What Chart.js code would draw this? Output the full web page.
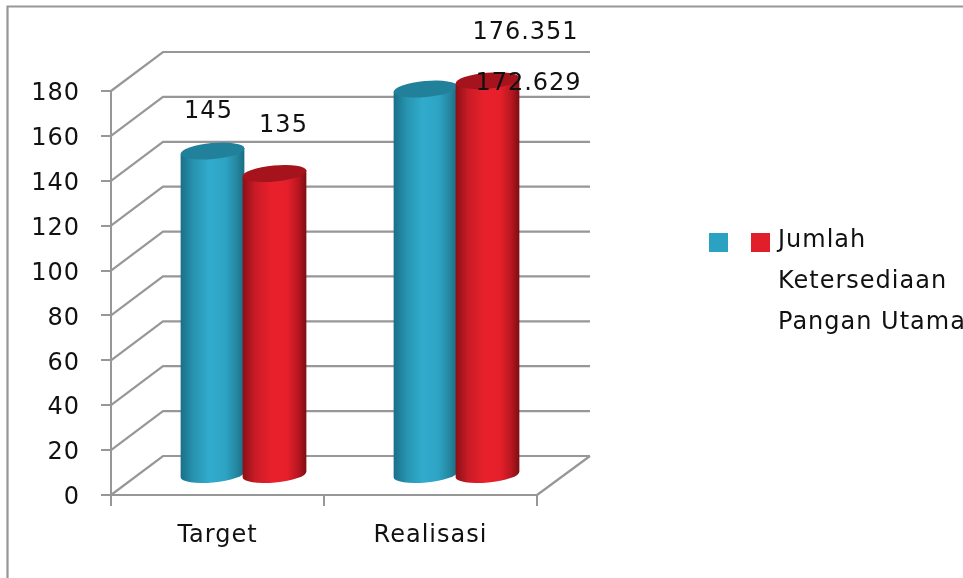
<!DOCTYPE html>
<html>
<head>
<meta charset="utf-8">
<title>Jumlah Ketersediaan Pangan Utama</title>
<script src="https://cdn.jsdelivr.net/npm/chart.js@4/dist/chart.umd.min.js"></script>
<style>
    html, body { margin: 0; padding: 0; background: #fff; overflow: hidden; }
    canvas { display: block; }
</style>
</head>
<body>
<canvas id="myChart" width="963" height="578"></canvas>
<script>
const categories = ['Target', 'Realisasi']
const seriesBlue = [145, 172.629]
const seriesRed = [135, 176.351]
const blueLabels = ['145', '172.629']
const redLabels = ['135', '176.351']
const legendLines = ['Jumlah', 'Ketersediaan', 'Pangan Utama']

const FONT = '"DejaVu Sans", sans-serif'
const GREY = '#979797'
const DEPTH_X = 52
const DEPTH_Y = 39

// tong mau: trai -> phai
const blueStops = [[0, '#1a6f88'], [0.2, '#2793b0'], [0.45, '#31abcc'], [0.7, '#2ea4c4'], [0.88, '#25869f'], [1, '#1b6a82']]
const redStops = [[0, '#8c0f17'], [0.2, '#c81c26'], [0.45, '#e8202c'], [0.7, '#e6202b'], [0.88, '#b5161f'], [1, '#7c0d13']]

function drawCylinder(ctx, bar, stops, topColor) {
    const a = 32, b = 8, rot = -0.09
    const cx = bar.x + DEPTH_X / 2
    const top = bar.y - DEPTH_Y / 2 + 1
    const base = bar.base - DEPTH_Y / 2
    const grad = ctx.createLinearGradient(cx - a, 0, cx + a, 0)
    stops.forEach((s) => grad.addColorStop(s[0], s[1]))
    const ex = a * Math.cos(rot), ey = a * Math.sin(rot)
    ctx.beginPath()
    ctx.moveTo(cx + ex, top + ey)
    ctx.lineTo(cx + ex, base + ey)
    ctx.ellipse(cx, base, a, b, rot, 0, Math.PI)
    ctx.lineTo(cx - ex, top - ey)
    ctx.closePath()
    ctx.fillStyle = grad
    ctx.fill()
    ctx.beginPath()
    ctx.ellipse(cx, top, a, b, rot, 0, Math.PI * 2)
    ctx.fillStyle = topColor
    ctx.fill()
}

const walls3d = {
    id: 'walls3d',
    beforeDraw(chart) {
        const ctx = chart.ctx
        const y = chart.scales.y, x = chart.scales.x
        ctx.letterSpacing = '1px'
        ctx.save()
        ctx.strokeStyle = GREY
        ctx.lineWidth = 2.2
        // khung ngoai
        ctx.beginPath()
        ctx.moveTo(7.5, 578)
        ctx.lineTo(7.5, 6.5)
        ctx.lineTo(963, 6.5)
        ctx.stroke()
        y.ticks.forEach((t) => {
            const py = y.getPixelForValue(t.value)
            ctx.beginPath()
            ctx.moveTo(x.left, py)
            ctx.lineTo(x.left + DEPTH_X, py - DEPTH_Y)
            ctx.lineTo(x.right + DEPTH_X + 1, py - DEPTH_Y)
            ctx.stroke()
        })
        ctx.beginPath()
        ctx.moveTo(x.right, y.bottom)
        ctx.lineTo(x.right + DEPTH_X + 1, y.bottom - DEPTH_Y)
        ctx.stroke()
        ctx.restore()
    }
}

const cylinders = {
    id: 'cylinders',
    beforeDatasetsDraw(chart) {
        const ctx = chart.ctx
        ctx.save()
        chart.getDatasetMeta(0).data.forEach((bar) => drawCylinder(ctx, bar, blueStops, '#21809a'))
        chart.getDatasetMeta(1).data.forEach((bar) => drawCylinder(ctx, bar, redStops, '#a5141d'))
        ctx.restore()
        return false
    }
}

const textLayer = {
    id: 'textLayer',
    afterDraw(chart) {
        const ctx = chart.ctx
        const blue = chart.getDatasetMeta(0).data
        const red = chart.getDatasetMeta(1).data
        ctx.save()
        ctx.fillStyle = '#111'
        ctx.font = '24px ' + FONT
        ctx.textAlign = 'center'
        ctx.textBaseline = 'middle'
        // nhan duoc keo tay nhu ban goc
        ctx.fillText(blueLabels[0], blue[0].x + 22, blue[0].y - 58)
        ctx.fillText(redLabels[0], red[0].x + 35, red[0].y - 66)
        ctx.fillText(blueLabels[1], blue[1].x + 129, blue[1].y - 24)
        ctx.fillText(redLabels[1], red[1].x + 64, red[1].y - 66)

        ctx.fillStyle = chart.data.datasets[0].backgroundColor
        ctx.fillRect(709, 233, 19, 19)
        ctx.fillStyle = chart.data.datasets[1].backgroundColor
        ctx.fillRect(751, 233, 19, 19)
        ctx.fillStyle = '#111'
        ctx.textAlign = 'left'
        legendLines.forEach((line, i) => ctx.fillText(line, 778, 241 + i * 41))
        ctx.restore()
    }
}

const ctx = document.getElementById('myChart').getContext('2d')
const myChart = new Chart(ctx, {
    type: 'bar',
    data: {
        labels: categories,
        datasets: [
            { label: '', data: seriesBlue, backgroundColor: '#2ca2c2', barThickness: 62 },
            { label: legendLines.join(' '), data: seriesRed, backgroundColor: '#e01f2b', barThickness: 62 }
        ]
    },
    options: {
        responsive: false,
        animation: false,
        layout: { padding: { top: 91, right: 426, left: 0, bottom: 0 } },
        plugins: {
            legend: { display: false },
            title: { display: false },
            tooltip: { enabled: false }
        },
        scales: {
            x: {
                afterFit(scale) { scale.height = 83 },
                grid: { drawOnChartArea: false, color: GREY, lineWidth: 2, tickLength: 11 },
                border: { color: GREY, width: 2 },
                ticks: { color: '#111', font: { size: 24, family: FONT }, padding: 15, maxRotation: 0 }
            },
            y: {
                min: 0,
                max: 180,
                afterFit(scale) { scale.width = 111 },
                grid: { drawOnChartArea: false, color: GREY, lineWidth: 2, tickLength: 10 },
                border: { color: GREY, width: 2 },
                ticks: { stepSize: 20, color: '#111', font: { size: 24, family: FONT }, padding: 21, labelOffset: 3 }
            }
        }
    },
    plugins: [walls3d, cylinders, textLayer]
})
</script>
</body>
</html>
